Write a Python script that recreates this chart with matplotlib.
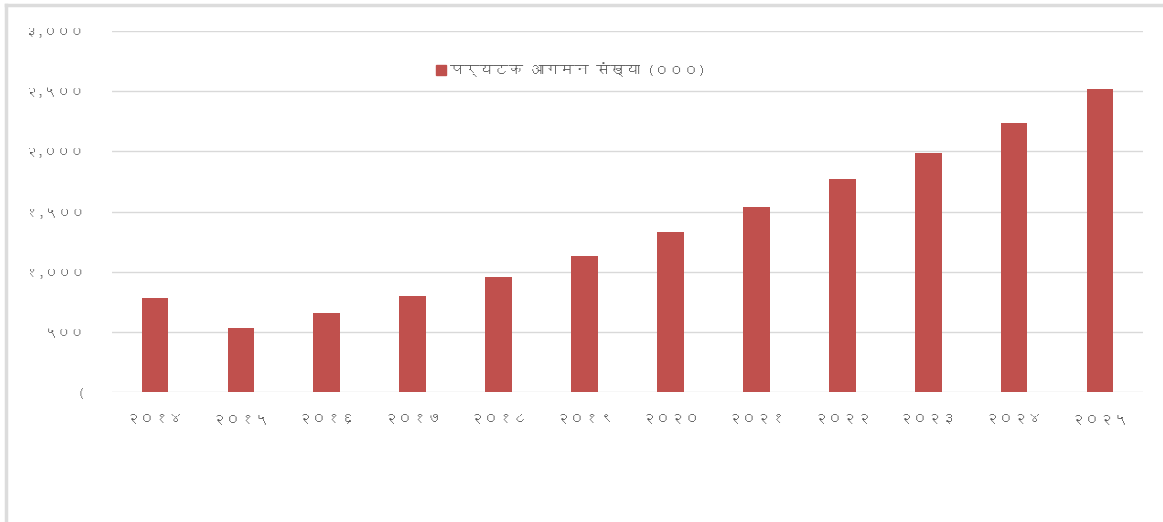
import matplotlib
matplotlib.use("Agg")
import matplotlib.pyplot as plt
from matplotlib import font_manager as fm
from matplotlib.ft2font import FT2Font
from matplotlib.lines import Line2D

# Data (thousands of tourist arrivals)
years = ['२०१४', '२०१५', '२०१६', '२०१७', '२०१८', '२०१९',
         '२०२०', '२०२१', '२०२२', '२०२३', '२०२४', '२०२५']
arrivals = [780, 532, 657, 798, 956, 1130, 1330, 1538, 1771, 1987, 2236, 2519]
y_ticks = [0, 500, 1000, 1500, 2000, 2500, 3000]
y_tick_labels = ['(', '५००', '१,०००', '१,५००', '२,०००', '२,५००', '३,०००']
series_name = 'पर्यटक आगमन संख्या (०००)'

# look for any installed font that can draw Devanagari
deva = None
for f in fm.fontManager.ttflist:
    try:
        if 0x092A in FT2Font(f.fname).get_charmap():
            deva = f.name
            break
    except Exception:
        pass
families = ([deva] if deva else []) + ['DejaVu Sans']
plt.rcParams['font.family'] = families

bar_color = '#C0504D'
grid_color = '#D9D9D9'
text_color = '#595959'

fig = plt.figure(figsize=(11.63, 5.22), dpi=100)
ax = fig.add_axes([0.0963, 0.249, 0.8865, 0.6916])

x = range(len(years))
ax.bar(x, arrivals, width=0.31, color=bar_color, zorder=3)

ax.set_xlim(-0.5, len(years) - 0.5)
ax.set_ylim(0, 3000)
ax.set_yticks(y_ticks)
ax.set_yticklabels(y_tick_labels, color=text_color, fontsize=9.5)
ax.set_xticks(list(x))
ax.set_xticklabels(years, color=text_color, fontsize=10.5)
ax.tick_params(axis='both', length=0)
ax.tick_params(axis='y', pad=20)
ax.tick_params(axis='x', pad=15)
ax.grid(axis='y', color=grid_color, linewidth=1, zorder=0)
for s in ax.spines.values():
    s.set_visible(False)

handle = plt.Rectangle((0, 0), 1, 1, color=bar_color)
ax.legend([handle], [series_name], loc='upper center', bbox_to_anchor=(0.445, 0.95),
          frameon=False, fontsize=10.5, labelcolor=text_color,
          handlelength=0.7, handleheight=0.7, handletextpad=0.3)

# outer frame (top and left edges)
fig.add_artist(Line2D([0.005, 1.0], [0.991, 0.991], transform=fig.transFigure,
                      color='#DCDCDC', linewidth=2.5))
fig.add_artist(Line2D([0.005, 0.005], [0.0, 0.991], transform=fig.transFigure,
                      color='#DCDCDC', linewidth=2.5))

fig.savefig('out.png', dpi=100)
